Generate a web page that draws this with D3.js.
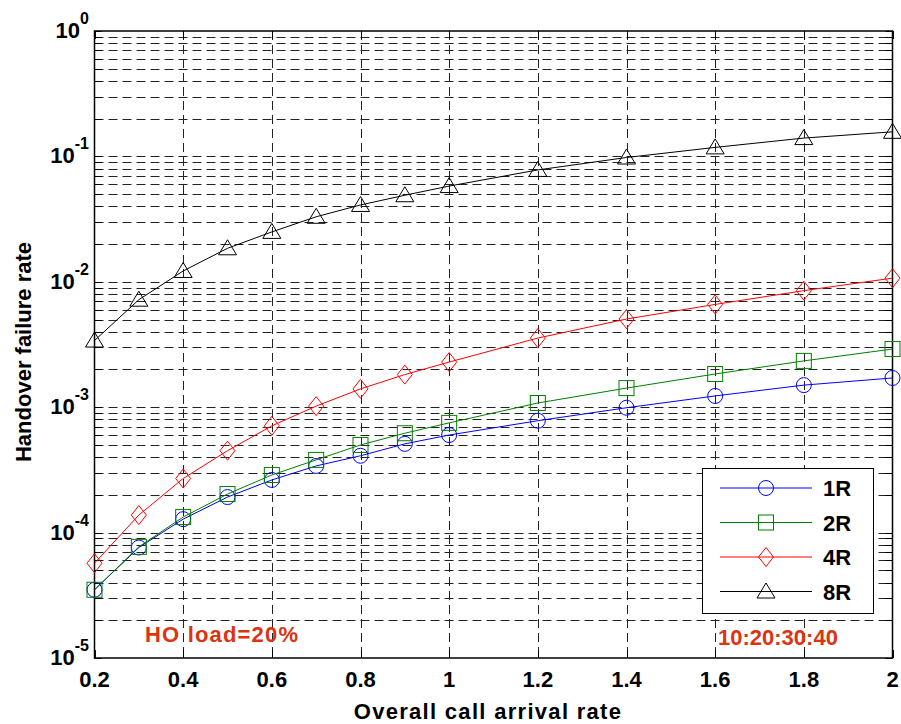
<!DOCTYPE html>
<html>
<head>
<meta charset="utf-8">
<script src="https://cdn.jsdelivr.net/npm/d3@7"></script>
<style>
  html, body { margin: 0; padding: 0; background: #fff; }
  svg { display: block; }
  text { font-family: "Liberation Sans", Arial, sans-serif; font-weight: bold; }
</style>
</head>
<body>
<svg id="chart" width="901" height="724"></svg>
<script>
// ---- Data ----
const xValues = [0.2, 0.3, 0.4, 0.5, 0.6, 0.7, 0.8, 0.9, 1.0, 1.2, 1.4, 1.6, 1.8, 2.0];
const series1R = [3.5e-5, 7.6e-5, 1.28e-4, 1.92e-4, 2.63e-4, 3.4e-4, 4.1e-4, 5.1e-4, 6.0e-4, 7.8e-4, 9.9e-4, 1.23e-3, 1.5e-3, 1.71e-3];
const series2R = [3.5e-5, 7.7e-5, 1.33e-4, 2.03e-4, 2.88e-4, 3.8e-4, 5.0e-4, 6.2e-4, 7.5e-4, 1.08e-3, 1.42e-3, 1.84e-3, 2.34e-3, 2.91e-3];
const series4R = [5.7e-5, 1.38e-4, 2.7e-4, 4.5e-4, 7.1e-4, 1.02e-3, 1.40e-3, 1.82e-3, 2.29e-3, 3.56e-3, 5.05e-3, 6.6e-3, 8.5e-3, 1.07e-2];
const series8R = [3.4e-3, 7.2e-3, 1.22e-2, 1.85e-2, 2.5e-2, 3.3e-2, 4.1e-2, 4.9e-2, 5.8e-2, 7.8e-2, 9.8e-2, 1.18e-1, 1.40e-1, 1.57e-1];
const seriesNames = ["1R", "2R", "4R", "8R"];
const xTickValues = [0.2, 0.4, 0.6, 0.8, 1.0, 1.2, 1.4, 1.6, 1.8, 2.0];
const xTickLabels = ["0.2", "0.4", "0.6", "0.8", "1", "1.2", "1.4", "1.6", "1.8", "2"];
const yDecades = [-5, -4, -3, -2, -1, 0];
const xTitle = "Overall call arrival rate";
const yTitle = "Handover failure rate";
const noteLeft = "HO load=20%";
const noteRight = "10:20:30:40";

// ---- Layout ----
const svg = d3.select("#chart");
const L = 94.5, R = 892.5, T = 31, B = 658;
const x = d3.scaleLinear().domain([0.2, 2]).range([L, R]);
const y = d3.scaleLog().domain([1e-5, 1]).range([B, T]);

const colors = { "1R": "#0000ff", "2R": "#007f00", "4R": "#ff0000", "8R": "#000000" };
const shapes = { "1R": "circle", "2R": "square", "4R": "diamond", "8R": "triangle" };
const data = { "1R": series1R, "2R": series2R, "4R": series4R, "8R": series8R };

// minor log ticks
const logTicks = [];
for (let d = -5; d < 0; d++) for (let k = 1; k <= 9; k++) logTicks.push(k * Math.pow(10, d));
logTicks.push(1);

const grid = svg.append("g");
grid.selectAll("line.h").data(logTicks.filter(v => v > 1e-5 && v < 1)).enter().append("line")
  .attr("x1", L).attr("x2", R)
  .attr("y1", d => Math.round(y(d)) + 0.5).attr("y2", d => Math.round(y(d)) + 0.5)
  .attr("stroke", "#222").attr("stroke-width", 1).attr("stroke-dasharray", "9,5");
grid.selectAll("line.v").data(xTickValues.filter(v => v > 0.2 && v < 2)).enter().append("line")
  .attr("x1", d => Math.round(x(d)) + 0.5).attr("x2", d => Math.round(x(d)) + 0.5)
  .attr("y1", T).attr("y2", B)
  .attr("stroke", "#222").attr("stroke-width", 1).attr("stroke-dasharray", "9,5");

// ticks (inward, all sides)
const ticks = svg.append("g").attr("stroke", "#000").attr("stroke-width", 1);
logTicks.forEach(v => {
  const yy = Math.round(y(v)) + 0.5;
  ticks.append("line").attr("x1", L).attr("x2", L + 7).attr("y1", yy).attr("y2", yy);
  ticks.append("line").attr("x1", R - 7).attr("x2", R).attr("y1", yy).attr("y2", yy);
});
xTickValues.forEach(v => {
  const xx = Math.round(x(v)) + 0.5;
  ticks.append("line").attr("x1", xx).attr("x2", xx).attr("y1", B).attr("y2", B - 8);
  ticks.append("line").attr("x1", xx).attr("x2", xx).attr("y1", T).attr("y2", T + 8);
});

svg.append("rect").attr("x", L).attr("y", T).attr("width", R - L).attr("height", B - T)
  .attr("fill", "none").attr("stroke", "#000").attr("stroke-width", 1.5);

// x tick labels
svg.append("g").selectAll("text").data(xTickValues).enter().append("text")
  .attr("x", d => x(d)).attr("y", 687).attr("text-anchor", "middle")
  .attr("font-size", 22).attr("fill", "#000")
  .text((d, i) => xTickLabels[i]);

// y tick labels
const yl = svg.append("g").selectAll("text").data(yDecades).enter().append("text")
  .attr("x", 89).attr("y", d => y(Math.pow(10, d)) + 7).attr("text-anchor", "end")
  .attr("fill", "#000");
yl.append("tspan").attr("font-size", 22).text("10");
yl.append("tspan").attr("font-size", 16).attr("dy", -14).text(d => String(d));

// axis titles
svg.append("text").attr("x", 488).attr("y", 719).attr("text-anchor", "middle")
  .attr("font-size", 22).attr("letter-spacing", 1.3).attr("fill", "#000").text(xTitle);
svg.append("text").attr("transform", `translate(31,352) rotate(-90)`)
  .attr("text-anchor", "middle").attr("font-size", 22).attr("fill", "#000").text(yTitle);

function drawMarker(g, shape, cx, cy, color) {
  if (shape === "circle") {
    g.append("circle").attr("cx", cx).attr("cy", cy).attr("r", 7.5)
      .attr("fill", "none").attr("stroke", color).attr("stroke-width", 1);
  } else if (shape === "square") {
    g.append("rect").attr("x", cx - 7.5).attr("y", cy - 7.5).attr("width", 15).attr("height", 15)
      .attr("fill", "none").attr("stroke", color).attr("stroke-width", 1);
  } else if (shape === "diamond") {
    g.append("path").attr("d", `M${cx},${cy - 9.5}L${cx + 7.5},${cy}L${cx},${cy + 9.5}L${cx - 7.5},${cy}Z`)
      .attr("fill", "none").attr("stroke", color).attr("stroke-width", 1);
  } else {
    g.append("path").attr("d", `M${cx},${cy - 8.5}L${cx + 9},${cy + 6.5}L${cx - 9},${cy + 6.5}Z`)
      .attr("fill", "none").attr("stroke", color).attr("stroke-width", 1);
  }
}

const line = d3.line().x(d => x(d[0])).y(d => y(d[1]));
seriesNames.forEach(name => {
  const pts = xValues.map((v, i) => [v, data[name][i]]);
  const g = svg.append("g");
  g.append("path").attr("d", line(pts)).attr("fill", "none")
    .attr("stroke", colors[name]).attr("stroke-width", 1);
  pts.forEach(p => drawMarker(g, shapes[name], x(p[0]), y(p[1]), colors[name]));
});

// legend
const lg = svg.append("g");
lg.append("rect").attr("x", 702.5).attr("y", 468.5).attr("width", 171).attr("height", 145)
  .attr("fill", "#fff").attr("stroke", "#000").attr("stroke-width", 1);
seriesNames.forEach((name, i) => {
  const ly = 488 + i * 34.5;
  lg.append("line").attr("x1", 720).attr("x2", 812).attr("y1", ly).attr("y2", ly)
    .attr("stroke", colors[name]).attr("stroke-width", 1);
  drawMarker(lg, shapes[name], 766, ly, colors[name]);
  lg.append("text").attr("x", 823).attr("y", ly + 8).attr("font-size", 22)
    .attr("fill", "#000").text(name);
});

// annotations
svg.append("text").attr("x", 145).attr("y", 642).attr("font-size", 22)
  .attr("fill", "#dd3311").attr("textLength", 153).attr("lengthAdjust", "spacing").text(noteLeft);
svg.append("text").attr("x", 718).attr("y", 645).attr("font-size", 22)
  .attr("fill", "#dd3311").text(noteRight);
</script>
</body>
</html>
